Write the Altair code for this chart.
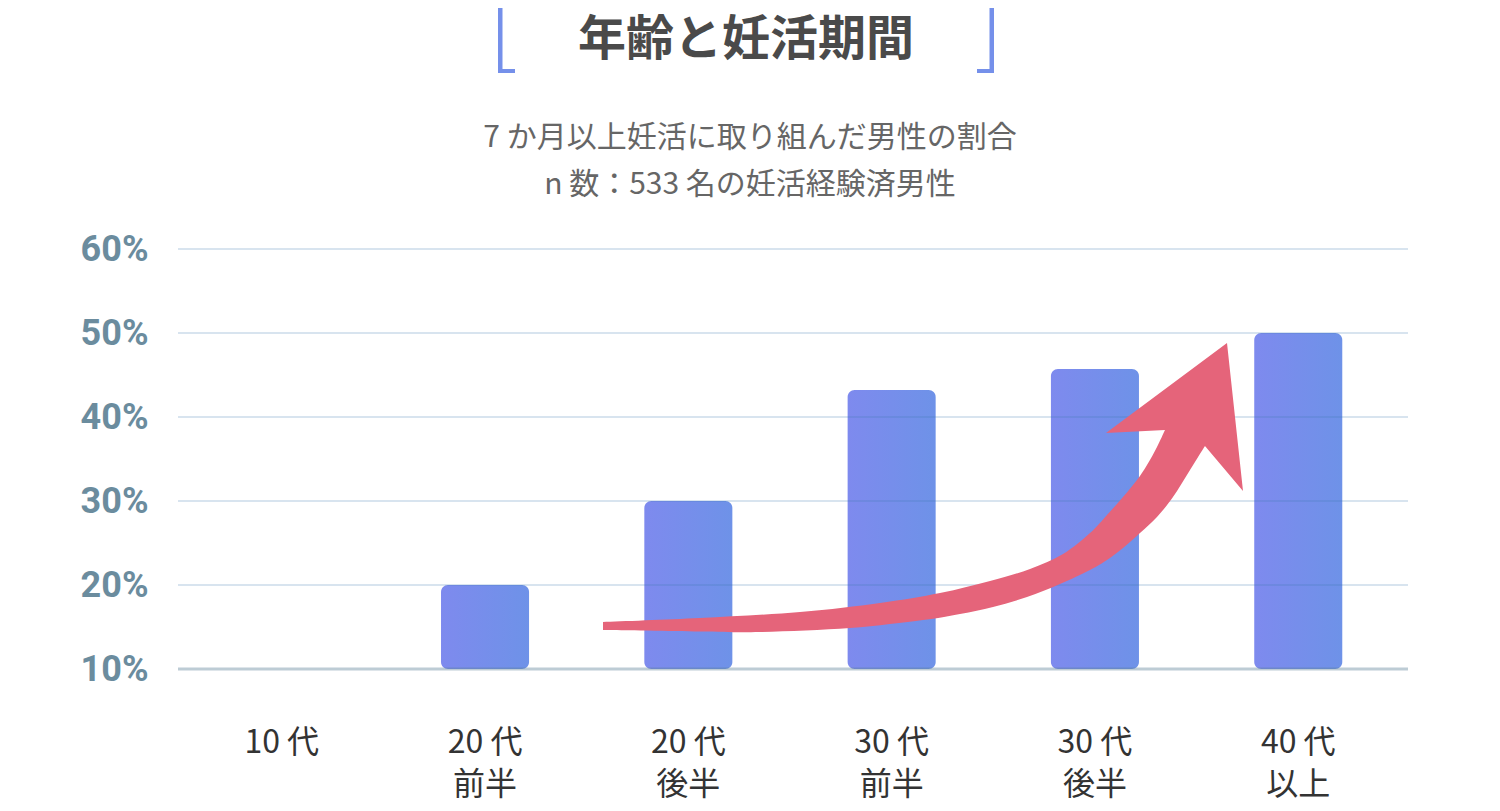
import altair as alt
import pandas as pd

## chart values
ages = ['10 代', '20 代\n前半', '20 代\n後半', '30 代\n前半', '30 代\n後半', '40 代\n以上']
shares = [10, 20, 30, 43.2, 45.7, 50]
y_ticks = [10, 20, 30, 40, 50, 60]

title_text = '年齢と妊活期間'
subtitle_lines = ['7 か月以上妊活に取り組んだ男性の割合', 'n 数：533 名の妊活経験済男性']

## outline of the red "rising" arrow and the title brackets (page pixels)
arrow_top = [(603, 622), (700, 618), (800, 612), (880, 603), (940, 593),
             (990, 581), (1030, 569), (1063, 554), (1090, 533), (1107, 515),
             (1123, 497), (1137, 480), (1147, 465), (1157, 447), (1165, 430)]
arrow_head = [(1106, 433), (1227, 343), (1243, 491), (1205, 446)]
arrow_bottom = [(1205, 446), (1190, 470), (1173, 497), (1157, 517), (1140, 533),
                (1123, 548), (1107, 560), (1090, 570), (1060, 584), (1027, 597),
                (993, 607), (960, 614), (923, 620), (850, 628), (760, 632),
                (700, 631.5), (603, 630)]
left_bracket = [(498, 2), (515, 2), (515, 6), (502.5, 6), (502.5, 69),
                (515, 69), (515, 73), (498, 73)]

PLOT_X, PLOT_Y = 178, 249   ## page position of the plot area's top-left corner


def smooth(pts, f):
    ## catmull-rom through the points, written as cubic beziers
    out = []
    for i in range(len(pts) - 1):
        p0 = pts[max(i - 1, 0)]
        p1, p2 = pts[i], pts[i + 1]
        p3 = pts[min(i + 2, len(pts) - 1)]
        c1 = (p1[0] + (p2[0] - p0[0]) / 6, p1[1] + (p2[1] - p0[1]) / 6)
        c2 = (p2[0] - (p3[0] - p1[0]) / 6, p2[1] - (p3[1] - p1[1]) / 6)
        out.append('C' + ' '.join(f(p) for p in (c1, c2, p2)))
    return ' '.join(out)


def arrow_path(cx, cy, half):
    f = lambda p: '%.4f,%.4f' % ((p[0] - cx) / half, (p[1] - cy) / half)
    return ('M' + f(arrow_top[0]) + ' ' + smooth(arrow_top, f) + ' ' +
            ' '.join('L' + f(p) for p in arrow_head) + ' ' +
            smooth(arrow_bottom, f) + ' Z')


def shape_path(pts, cx, cy, half):
    ## vega custom symbol: path in a [-1, 1] box, scaled by sqrt(size)/2
    return 'M' + ' L'.join('%.4f,%.4f' % ((x - cx) / half, (y - cy) / half)
                           for x, y in pts) + ' Z'


right_bracket = [(1492 - x, y) for x, y in left_bracket]

df = pd.DataFrame({'age': ages, 'share': shares})
grid = pd.DataFrame({'v': y_ticks[1:]})
base_line = pd.DataFrame({'v': y_ticks[:1]})
one = pd.DataFrame({'k': [0]})

yscale = alt.Scale(domain=[10, 60])
xscale = alt.Scale(paddingInner=0.567, paddingOuter=0.3085, align=0.476)

bar_fill = alt.Gradient(
    gradient='linear', x1=0, y1=0, x2=1, y2=0,
    stops=[alt.GradientStop(color='#7e8aee', offset=0),
           alt.GradientStop(color='#6e92e8', offset=1)])

bars = alt.Chart(df).mark_bar(color=bar_fill, cornerRadius=7).encode(
    x=alt.X('age:N', sort=ages, scale=xscale,
            axis=alt.Axis(title=None, labelAngle=0, domain=False, ticks=False,
                          labelExpr="split(datum.label, '\\n')",
                          labelFont='Noto Sans CJK JP', labelFontSize=32,
                          labelLineHeight=42, labelColor='#333333',
                          labelPadding=58)),
    y=alt.Y('share:Q', scale=yscale,
            axis=alt.Axis(title=None, values=y_ticks, grid=False, domain=False,
                          ticks=False, labelExpr="datum.value + '%'",
                          labelFont='Roboto', labelFontWeight='bold',
                          labelFontSize=36, labelColor='#6b8c9e',
                          labelPadding=30)),
    y2=alt.datum(10),
)

## grid sits on top of the bars, so it shows darker through them
grid_rules = alt.Chart(grid).mark_rule(color='#3a78b0', opacity=0.2, strokeWidth=2).encode(
    y=alt.Y('v:Q', scale=yscale)
)
base_rule = alt.Chart(base_line).mark_rule(color='#5a7f95', opacity=0.4, strokeWidth=3).encode(
    y=alt.Y('v:Q', scale=yscale)
)

arrow = alt.Chart(one).mark_point(
    shape=arrow_path(923, 487.5, 320),
    filled=True, color='#e5647a', opacity=1, strokeWidth=0, size=640 ** 2
).encode(x=alt.value(923 - PLOT_X), y=alt.value(487.5 - PLOT_Y))

brackets = [
    alt.Chart(one).mark_point(
        shape=shape_path(pts, cx, 37.5, 35.5),
        filled=True, color='#7590ea', opacity=1, strokeWidth=0, size=71 ** 2
    ).encode(x=alt.value(cx - PLOT_X), y=alt.value(37.5 - PLOT_Y))
    for pts, cx in [(left_bracket, 506.5), (right_bracket, 985.5)]
]

title = alt.Chart(one).mark_text(
    text=title_text, font='Noto Sans CJK JP', fontSize=48, fontWeight='bold',
    color='#4a4a4a', align='center', baseline='middle'
).encode(x=alt.value(746 - PLOT_X), y=alt.value(41 - PLOT_Y))

subtitles = [
    alt.Chart(one).mark_text(
        text=line, font='Noto Sans CJK JP', fontSize=30, color='#666666',
        align='center', baseline='middle'
    ).encode(x=alt.value(750 - PLOT_X), y=alt.value(cy - PLOT_Y))
    for line, cy in zip(subtitle_lines, [138, 185])
]

chart = alt.layer(
    bars, grid_rules, base_rule, arrow, *brackets, title, *subtitles
).properties(
    width=1230, height=420,
    padding={'left': PLOT_X - 8, 'top': PLOT_Y - 8, 'right': 84, 'bottom': 134},
    autosize=alt.AutoSizeParams(type='none'),
    background='white',
).configure_view(stroke=None)

chart.save('out.html', embed_options={'renderer': 'svg', 'actions': False})
